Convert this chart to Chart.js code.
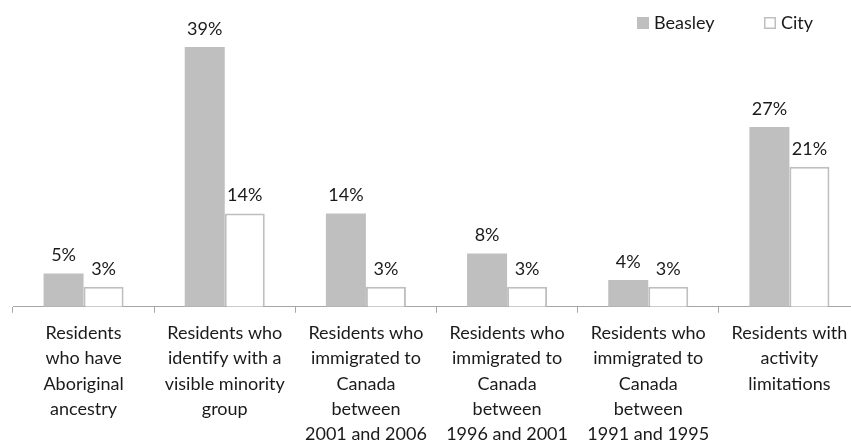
<!DOCTYPE html>
<html lang="en">
<head>
  <meta charset="UTF-8" />
  <title>Beasley vs City</title>
  <script src="https://cdn.jsdelivr.net/npm/chart.js"></script>
  <style>
    html, body { margin: 0; padding: 0; background: #fff; overflow: hidden; }
    .wrap { width: 860px; height: 455px; position: relative; }
  </style>
</head>
<body>
  <div class="wrap">
    <canvas id="chart"></canvas>
  </div>

  <script>
    // Data
    const categories = [
      ['Residents', 'who have', 'Aboriginal', 'ancestry'],
      ['Residents who', 'identify with a', 'visible minority', 'group'],
      ['Residents who', 'immigrated to', 'Canada', 'between', '2001 and 2006'],
      ['Residents who', 'immigrated to', 'Canada', 'between', '1996 and 2001'],
      ['Residents who', 'immigrated to', 'Canada', 'between', '1991 and 1995'],
      ['Residents with', 'activity', 'limitations']
    ];
    const beasley = [5, 39, 14, 8, 4, 27];
    const city = [3, 14, 3, 3, 3, 21];
    const seriesNames = ['Beasley', 'City'];

    const FONT = 'Lato, "Open Sans", sans-serif';

    // Value labels drawn above each bar
    const barLabels = {
      id: 'barLabels',
      afterDatasetsDraw(chart) {
        const ctx = chart.ctx;
        ctx.save();
        ctx.font = '18px ' + FONT;
        ctx.fillStyle = '#1a1a1a';
        ctx.textAlign = 'center';
        ctx.textBaseline = 'alphabetic';
        chart.data.datasets.forEach((ds, i) => {
          chart.getDatasetMeta(i).data.forEach((bar, j) => {
            ctx.fillText(ds.data[j] + '%', bar.x, bar.y - 12);
          });
        });
        ctx.restore();
      }
    };

    // Legend in the top right corner
    const cornerLegend = {
      id: 'cornerLegend',
      afterDraw(chart) {
        const ctx = chart.ctx;
        const spots = [637, 764];
        ctx.save();
        ctx.font = '18px ' + FONT;
        ctx.textBaseline = 'middle';
        chart.data.datasets.forEach((ds, i) => {
          const x = spots[i];
          ctx.fillStyle = ds.backgroundColor;
          ctx.fillRect(x, 17, 12, 12);
          if (ds.borderWidth) {
            ctx.strokeStyle = ds.borderColor;
            ctx.lineWidth = 1.5;
            ctx.strokeRect(x + 0.75, 17.75, 10.5, 10.5);
          }
          ctx.fillStyle = '#1a1a1a';
          ctx.fillText(ds.label, x + 17, 23);
        });
        ctx.restore();
      }
    };

    new Chart(document.getElementById('chart'), {
      type: 'bar',
      data: {
        labels: categories,
        datasets: [
          {
            label: seriesNames[0],
            data: beasley,
            backgroundColor: '#bfbfbf',
            borderWidth: 0
          },
          {
            label: seriesNames[1],
            data: city,
            backgroundColor: '#ffffff',
            borderColor: '#bfbfbf',
            borderWidth: 2
          }
        ]
      },
      options: {
        responsive: true,
        maintainAspectRatio: false,
        animation: false,
        categoryPercentage: 0.567,
        barPercentage: 1,
        layout: { padding: { top: 7, left: 13, right: 0, bottom: 0 } },
        plugins: {
          legend: { display: false },
          tooltip: { enabled: false }
        },
        scales: {
          x: {
            grid: {
              drawOnChartArea: false,
              drawTicks: true,
              tickLength: 6,
              color: '#a6a6a6'
            },
            border: { color: '#a6a6a6', width: 1 },
            ticks: {
              color: '#1a1a1a',
              font: { family: FONT, size: 18, lineHeight: '25.25px' },
              padding: 8,
              maxRotation: 0,
              autoSkip: false
            }
          },
          y: {
            display: false,
            min: 0,
            max: 45
          }
        }
      },
      plugins: [barLabels, cornerLegend]
    });
  </script>
</body>
</html>
